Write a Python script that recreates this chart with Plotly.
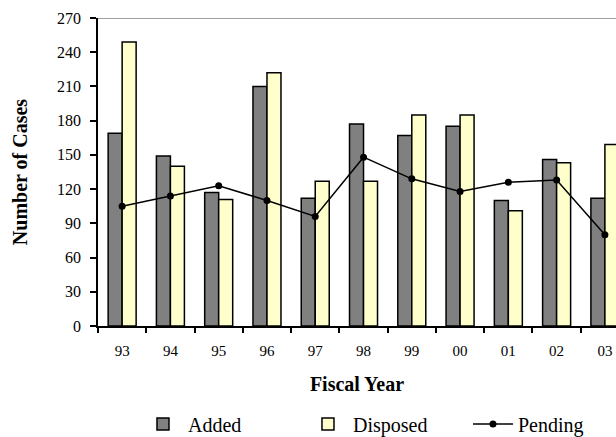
import plotly.graph_objects as go

years = ["93", "94", "95", "96", "97", "98", "99", "00", "01", "02", "03"]
added = [169, 149, 117, 210, 112, 177, 167, 175, 110, 146, 112]
disposed = [249, 140, 111, 222, 127, 127, 185, 185, 101, 143, 159]
pending = [105, 114, 123, 110, 96, 148, 129, 118, 126, 128, 80]
y_ticks = [0, 30, 60, 90, 120, 150, 180, 210, 240, 270]

FONT = "Liberation Serif, Times New Roman, serif"

fig = go.Figure()
fig.add_trace(go.Bar(name="Added", x=years, y=added,
                     marker=dict(color="#808080", line=dict(color="black", width=1.5))))
fig.add_trace(go.Bar(name="Disposed", x=years, y=disposed,
                     marker=dict(color="#FFFFCC", line=dict(color="black", width=1.5))))
fig.add_trace(go.Scatter(name="Pending", x=years, y=pending, mode="lines+markers",
                         line=dict(color="black", width=1.5),
                         marker=dict(color="black", size=7, symbol="circle")))

fig.update_layout(
    width=616, height=437,
    margin=dict(l=98, r=0, t=18, b=111, autoexpand=False),
    paper_bgcolor="white", plot_bgcolor="white",
    font=dict(family=FONT, size=15, color="black"),
    barmode="group", bargap=0.42, bargroupgap=0,
    showlegend=True,
    legend=dict(orientation="h", xref="container", yref="container",
                x=0.224, y=0.03, xanchor="left", yanchor="middle",
                entrywidth=110, entrywidthmode="pixels", itemwidth=40,
                font=dict(family=FONT, size=20, color="black"), traceorder="normal"),
    shapes=[dict(type="line", xref="paper", yref="y", x0=0, x1=1, y0=270, y1=270,
                 line=dict(color="#808080", width=1.5), layer="below")],
)
fig.update_xaxes(
    type="category", range=[-0.5, 10.23], automargin=False,
    showline=True, linecolor="black", linewidth=1.5,
    ticks="outside", tickson="boundaries", ticklen=5, tickwidth=1.5, tickcolor="black",
    showgrid=False, tickfont=dict(family=FONT, size=15), ticklabelstandoff=10,
    title=dict(text="<b>Fiscal Year</b>", font=dict(family=FONT, size=20), standoff=19),
)
fig.update_yaxes(
    range=[0, 270], tickvals=y_ticks, automargin=False,
    showline=True, linecolor="black", linewidth=1.5,
    ticks="outside", ticklen=6, tickwidth=1.5, tickcolor="black",
    showgrid=False, zeroline=False, tickfont=dict(family=FONT, size=16), ticklabelstandoff=6,
    title=dict(text="<b>Number of Cases</b>", font=dict(family=FONT, size=20), standoff=24),
)

fig.write_html("out.html", config={"displayModeBar": False},
               post_script="document.body.style.margin='0';")
